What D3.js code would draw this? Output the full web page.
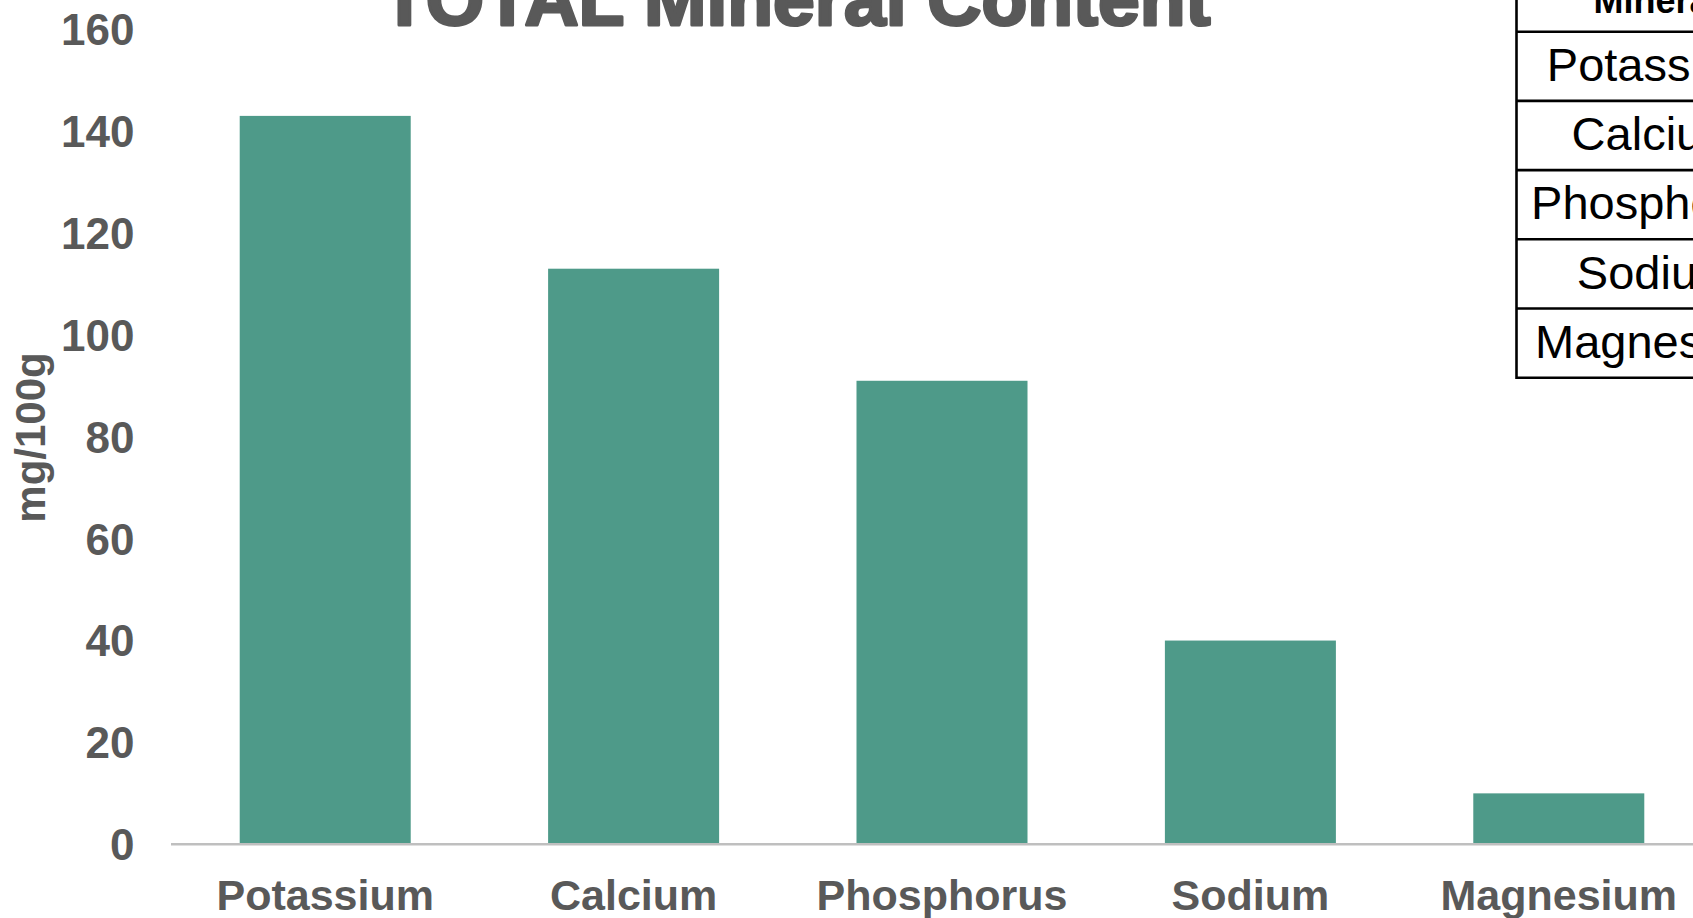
<!DOCTYPE html>
<html>
<head>
<meta charset="utf-8">
<script src="https://cdn.jsdelivr.net/npm/d3@7"></script>
<style>
  html, body { margin: 0; padding: 0; background: #ffffff; overflow: hidden; }
  svg { display: block; }
</style>
</head>
<body>
<svg id="chart" width="1693" height="918"></svg>
<script>
// Mineral content per 100 g
const minerals = ["Potassium", "Calcium", "Phosphorus", "Sodium", "Magnesium"];
const mgPer100g = [143, 113, 91, 40, 10];
const yTicks = [0, 20, 40, 60, 80, 100, 120, 140, 160];
const chartTitle = "TOTAL Mineral Content";
const yAxisTitle = "mg/100g";
const tableHeader = "Mineral";

const W = 1693, H = 918;
const svg = d3.select("#chart");
const textGrey = "#595959";
const barColor = "#4E9A89";
const axisGrey = "#BFBFBF";
const font = "'Liberation Sans', Arial, sans-serif";

// Scales
const x = d3.scaleBand()
  .domain(minerals)
  .range([171, 1713])
  .paddingInner(0.4455)
  .paddingOuter(0.2228);

const y = d3.scaleLinear()
  .domain([0, 160])
  .range([844.3, 29.3]);

// Title (partly above the visible area)
svg.append("text")
  .attr("x", 796)
  .attr("y", 25)
  .attr("text-anchor", "middle")
  .attr("font-family", font)
  .attr("font-weight", "bold")
  .attr("font-size", 75)
  .attr("fill", textGrey)
  .attr("stroke", textGrey)
  .attr("stroke-width", 3)
  .attr("stroke-linejoin", "round")
  .text(chartTitle);

// Bars
svg.append("g")
  .selectAll("rect")
  .data(minerals)
  .join("rect")
  .attr("x", d => x(d))
  .attr("width", x.bandwidth())
  .attr("y", (d, i) => y(mgPer100g[i]))
  .attr("height", (d, i) => y(0) - y(mgPer100g[i]))
  .attr("fill", barColor);

// Horizontal category axis line
svg.append("line")
  .attr("x1", x.range()[0])
  .attr("x2", W)
  .attr("y1", y(0))
  .attr("y2", y(0))
  .attr("stroke", axisGrey)
  .attr("stroke-width", 2.6);

// Category labels
const xAxis = d3.axisBottom(x).tickSize(0).tickPadding(0);
const gx = svg.append("g")
  .attr("transform", `translate(0,${y(0)})`)
  .call(xAxis);
gx.select(".domain").remove();
gx.selectAll("text")
  .attr("y", 66)
  .attr("dy", null)
  .attr("font-family", font)
  .attr("font-weight", "bold")
  .attr("font-size", 43)
  .attr("fill", textGrey);

// Value axis labels
const yAxis = d3.axisLeft(y).tickValues(yTicks).tickSize(0).tickPadding(0);
const gy = svg.append("g")
  .attr("transform", "translate(134.5,0)")
  .call(yAxis);
gy.select(".domain").remove();
gy.selectAll("text")
  .attr("x", 0)
  .attr("dy", "0.35em")
  .attr("font-family", font)
  .attr("font-weight", "bold")
  .attr("font-size", 44)
  .attr("fill", textGrey);

// Value axis title
svg.append("text")
  .attr("transform", `translate(45,${437.5}) rotate(-90)`)
  .attr("text-anchor", "middle")
  .attr("font-family", font)
  .attr("font-weight", "bold")
  .attr("font-size", 42)
  .attr("fill", textGrey)
  .text(yAxisTitle);

// Data table beside the chart
const tableLeft = 1516.5, colWidth = 280, headerBottom = 31.7, rowH = 69.2;
const table = svg.append("g");
const rowTop = i => headerBottom + i * rowH;

table.append("text")
  .attr("x", tableLeft + colWidth / 2)
  .attr("y", 12.7)
  .attr("text-anchor", "middle")
  .attr("font-family", font)
  .attr("font-weight", "bold")
  .attr("font-size", 36)
  .attr("fill", "#000")
  .text(tableHeader);

table.selectAll("text.row")
  .data(minerals)
  .join("text")
  .attr("class", "row")
  .attr("x", tableLeft + colWidth / 2)
  .attr("y", (d, i) => rowTop(i + 1) - 20)
  .attr("text-anchor", "middle")
  .attr("font-family", font)
  .attr("font-size", 47)
  .attr("fill", "#000")
  .text(d => d);

// Row rules
table.selectAll("line.rule")
  .data(d3.range(minerals.length + 1))
  .join("line")
  .attr("class", "rule")
  .attr("x1", tableLeft)
  .attr("x2", tableLeft + colWidth)
  .attr("y1", i => rowTop(i))
  .attr("y2", i => rowTop(i))
  .attr("stroke", "#000")
  .attr("stroke-width", 2.6);

// Left border
table.append("line")
  .attr("x1", tableLeft)
  .attr("x2", tableLeft)
  .attr("y1", 0)
  .attr("y2", rowTop(minerals.length) + 1.3)
  .attr("stroke", "#000")
  .attr("stroke-width", 2.6);
</script>
</body>
</html>
